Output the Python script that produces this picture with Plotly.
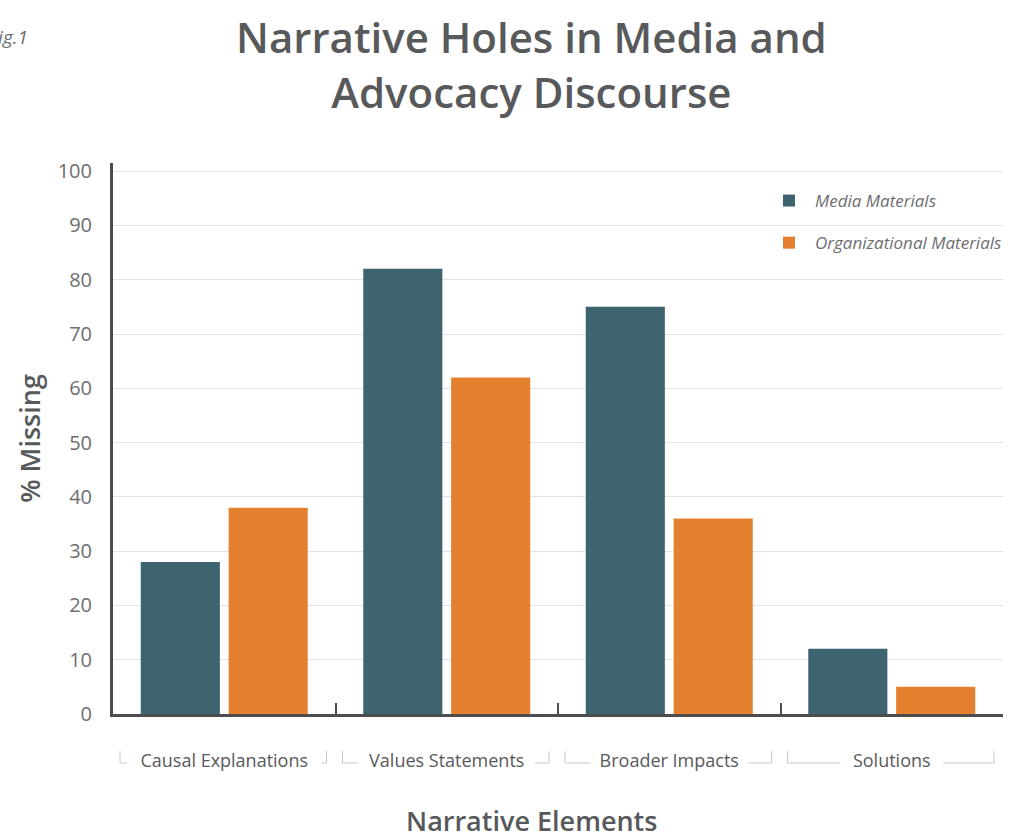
import plotly.graph_objects as go

# Share of materials missing each narrative element (%)
categories = ["Causal Explanations", "Values Statements", "Broader Impacts", "Solutions"]
media_materials = [28, 82, 75, 12]
organizational_materials = [38, 62, 36, 5]
y_ticks = [0, 10, 20, 30, 40, 50, 60, 70, 80, 90, 100]

TEAL = "#3e6470"
ORANGE = "#e5802f"
TEXT = "#58595b"
LIGHT_TEXT = "#6d6e71"
FONT = "Open Sans"

fig = go.Figure()
fig.add_trace(go.Bar(name="Media Materials", x=categories, y=media_materials,
                     marker=dict(color=TEAL, line=dict(width=0)), legendgroup="m"))
fig.add_trace(go.Bar(name="Organizational Materials", x=categories, y=organizational_materials,
                     marker=dict(color=ORANGE, line=dict(width=0)), legendgroup="o"))

L, R, T, B = 113, 9, 163, 126
W, H = 1012, 840
plot_w = W - L - R
plot_h = H - T - B

fig.update_layout(
    width=W, height=H,
    margin=dict(l=L, r=R, t=T, b=B, pad=0, autoexpand=False),
    paper_bgcolor="white", plot_bgcolor="white",
    barmode="group", bargap=0.21, bargroupgap=0.1,
    font=dict(family=FONT, color=TEXT),
    showlegend=True,
    legend=dict(x=(763 - L) / plot_w, y=1.0 - (183 - T) / plot_h, xanchor="left", yanchor="top",
                font=dict(family=FONT, size=17, color=LIGHT_TEXT, style="italic"),
                bgcolor="rgba(0,0,0,0)", tracegroupgap=17, traceorder="grouped",
                itemwidth=42),
    xaxis=dict(
        type="category",
        showline=True, linecolor="#4d4d4f", linewidth=3,
        ticks="inside", tickson="boundaries", ticklen=11, tickwidth=2, tickcolor="#4d4d4f",
        tickfont=dict(family=FONT, size=18, color=TEXT),
        ticklabelstandoff=28,
        showgrid=False, zeroline=False,
    ),
    yaxis=dict(
        range=[0, 101.5], tickvals=y_ticks,
        showline=True, linecolor="#4d4d4f", linewidth=3,
        showgrid=True, gridcolor="#e3e3e3", gridwidth=1,
        zeroline=False, ticks="",
        tickfont=dict(family=FONT, size=20, color=LIGHT_TEXT),
        ticklabelstandoff=14,
        title=dict(text="% Missing", font=dict(family=FONT, size=27, color=TEXT, weight=600), standoff=10),
    ),
)

# Centre of the text column (title and x-axis title sit slightly left of the plot centre)
cx = (531 - L) / plot_w

fig.add_annotation(text="Narrative Holes in Media and<br>Advocacy Discourse",
                   xref="paper", yref="paper", x=cx, y=1 + (T - 6) / plot_h, xanchor="center", yanchor="top",
                   showarrow=False, align="center",
                   font=dict(family=FONT, size=42, color=TEXT, weight=600))
fig.add_annotation(text="Narrative Elements", xref="paper", yref="paper",
                   x=cx, y=-(841 - (H - B)) / plot_h, xanchor="center", yanchor="bottom",
                   showarrow=False, font=dict(family=FONT, size=27, color=TEXT, weight=600))
fig.add_annotation(text="Fig.1", xref="paper", yref="paper",
                   x=(30 - L) / plot_w, y=1 + (T - 37) / plot_h, xanchor="right", yanchor="middle",
                   showarrow=False, font=dict(family=FONT, size=19, color=LIGHT_TEXT, style="italic"))

# Bracket marks around each category label
px_per_cat = plot_w / len(categories)
char_px = 9.2
label_y0 = -(751 - (H - B)) / plot_h
label_y1 = -(763 - (H - B)) / plot_h
for i, cat in enumerate(categories):
    half_text = len(cat) * char_px / 2 / px_per_cat
    gap = 10 / px_per_cat
    left = i - 0.5 + 7 / px_per_cat
    right = i + 0.5 - 9 / px_per_cat
    for x_edge, x_inner in ((left, i - half_text - gap), (right, i + half_text + gap)):
        fig.add_shape(type="line", xref="x", yref="paper", x0=x_edge, x1=x_edge,
                      y0=label_y0, y1=label_y1, line=dict(color="#c8c8c8", width=1))
        fig.add_shape(type="line", xref="x", yref="paper", x0=x_edge, x1=x_inner,
                      y0=label_y1, y1=label_y1, line=dict(color="#c8c8c8", width=1))

fig.write_html("out.html")
